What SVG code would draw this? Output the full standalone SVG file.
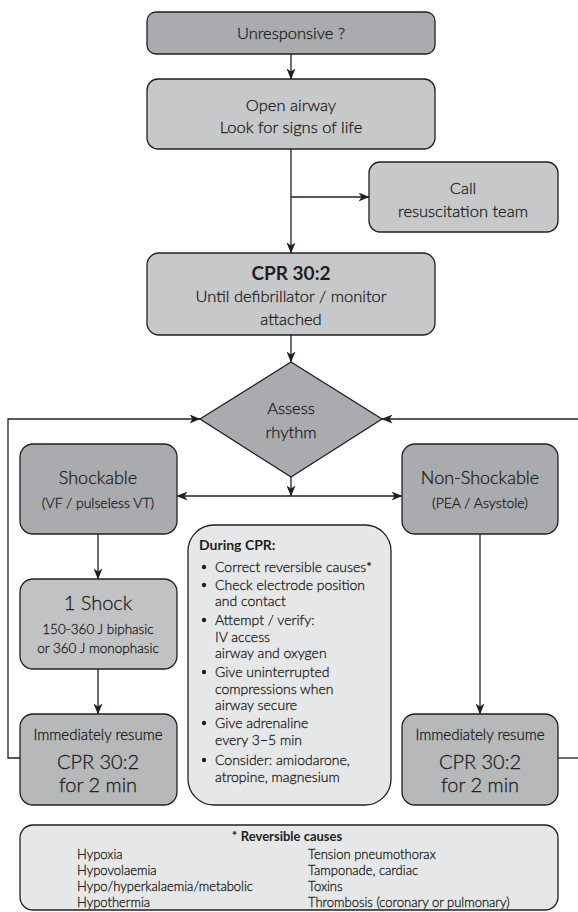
<svg xmlns="http://www.w3.org/2000/svg" width="578" height="912" viewBox="0 0 578 912">
<defs>
<marker id="ah" viewBox="0 0 11 9" markerWidth="11" markerHeight="9" refX="10.5" refY="4.5" orient="auto" markerUnits="userSpaceOnUse">
<path d="M0,0 L11,4.5 L0,9 L3,4.5 z" fill="#231f20"/>
</marker>
<marker id="ahs" viewBox="0 0 11 9" markerWidth="11" markerHeight="9" refX="0.5" refY="4.5" orient="auto" markerUnits="userSpaceOnUse">
<path d="M11,0 L0,4.5 L11,9 L8,4.5 z" fill="#231f20"/>
</marker>
</defs>
<style>
.box{stroke:#231f20;stroke-width:1.3}
.dark{fill:#a9abae}
.mid{fill:#b6b8ba}
.med{fill:#c1c2c4}
.light{fill:#c7c8ca}
.pale{fill:#e6e7e8}
.c{stroke:#231f20;stroke-width:1.3;fill:none}
text{font-family:Lato,"Open Sans","Liberation Sans",sans-serif;fill:#231f20;font-weight:300;stroke:#231f20;stroke-width:0.3}
.t{font-size:16.5px;text-anchor:middle}
.lg{font-size:20px}
.md{font-size:18px}
.b{font-size:14px}
.s{font-size:13px}
.bold{font-weight:bold;stroke:none}
</style>
<g id="connectors">
<line class="c" x1="291" y1="54" x2="291" y2="79" marker-end="url(#ah)"/>
<line class="c" x1="291" y1="149" x2="291" y2="253" marker-end="url(#ah)"/>
<line class="c" x1="291" y1="197" x2="369" y2="197" marker-end="url(#ah)"/>
<line class="c" x1="291" y1="335" x2="291" y2="362" marker-end="url(#ah)"/>
<line class="c" x1="291" y1="477" x2="291" y2="496" marker-end="url(#ah)"/>
<line class="c" x1="177" y1="496" x2="402" y2="496" marker-start="url(#ahs)" marker-end="url(#ah)"/>
<line class="c" x1="98" y1="534" x2="98" y2="579" marker-end="url(#ah)"/>
<line class="c" x1="98" y1="669" x2="98" y2="714" marker-end="url(#ah)"/>
<line class="c" x1="480" y1="534" x2="480" y2="714" marker-end="url(#ah)"/>
<polyline class="c" points="20,758 8,758 8,419 200,419" marker-end="url(#ah)"/>
<line class="c" x1="558" y1="758" x2="578" y2="758"/>
<line class="c" x1="578" y1="419" x2="382" y2="419" marker-end="url(#ah)"/>
</g>
<g id="unresponsive">
<rect class="box dark" x="147" y="12" width="288" height="42" rx="9"/>
<text class="t" x="291" y="39">Unresponsive ?</text>
</g>
<g id="open-airway">
<rect class="box light" x="147" y="79" width="288" height="70" rx="11"/>
<text class="t" x="291" y="111">Open airway</text>
<text class="t" x="291" y="133">Look for signs of life</text>
</g>
<g id="call-team">
<rect class="box light" x="369" y="162" width="189" height="70" rx="11"/>
<text class="t" x="463" y="194">Call</text>
<text class="t" x="463" y="217">resuscitation team</text>
</g>
<g id="cpr">
<rect class="box light" x="147" y="253" width="288" height="82" rx="12"/>
<text class="t bold" x="291" y="280" style="font-size:19px">CPR 30:2</text>
<text class="t" x="291" y="302">Until defibrillator / monitor</text>
<text class="t" x="291" y="325">attached</text>
</g>
<g id="assess">
<polygon class="box dark" points="291,362 382,419 291,477 200,419"/>
<text class="t" x="291" y="414">Assess</text>
<text class="t" x="291" y="438">rhythm</text>
</g>
<g id="shockable">
<rect class="box dark" x="20" y="444" width="157" height="90" rx="13"/>
<text class="t md" x="98" y="484">Shockable</text>
<text class="t" x="98" y="508" style="font-size:14px">(VF / pulseless VT)</text>
</g>
<g id="non-shockable">
<rect class="box dark" x="402" y="444" width="156" height="90" rx="13"/>
<text class="t md" x="480" y="484">Non-Shockable</text>
<text class="t" x="480" y="508" style="font-size:14px">(PEA / Asystole)</text>
</g>
<g id="one-shock">
<rect class="box med" x="20" y="579" width="157" height="90" rx="13"/>
<text class="t lg" x="98" y="610">1 Shock</text>
<text class="t" x="98" y="634" style="font-size:13.5px">150-360 J biphasic</text>
<text class="t" x="98" y="653" style="font-size:13.5px">or 360 J monophasic</text>
</g>
<g id="resume-left">
<rect class="box mid" x="20" y="714" width="157" height="91" rx="13"/>
<text class="t" x="98" y="739.5" style="font-size:15px">Immediately resume</text>
<text class="t lg" x="98" y="769">CPR 30:2</text>
<text class="t lg" x="98" y="792">for 2 min</text>
</g>
<g id="resume-right">
<rect class="box mid" x="402" y="714" width="156" height="91" rx="13"/>
<text class="t" x="480" y="739.5" style="font-size:15px">Immediately resume</text>
<text class="t lg" x="480" y="769">CPR 30:2</text>
<text class="t lg" x="480" y="792">for 2 min</text>
</g>
<g id="during-cpr">
<rect class="box pale" x="188" y="525" width="203" height="280" rx="26"/>
<text class="b bold" x="199" y="550">During CPR:</text>
<g fill="#231f20">
<circle cx="204" cy="567" r="2.2"/>
<circle cx="204" cy="585" r="2.2"/>
<circle cx="204" cy="620" r="2.2"/>
<circle cx="204" cy="672" r="2.2"/>
<circle cx="204" cy="723" r="2.2"/>
<circle cx="204" cy="760" r="2.2"/>
</g>
<text class="b" x="215" y="572">Correct reversible causes*</text>
<text class="b" x="215" y="590">Check electrode position</text>
<text class="b" x="215" y="606">and contact</text>
<text class="b" x="215" y="625">Attempt / verify:</text>
<text class="b" x="215" y="642">IV access</text>
<text class="b" x="215" y="658">airway and oxygen</text>
<text class="b" x="215" y="677">Give uninterrupted</text>
<text class="b" x="215" y="694">compressions when</text>
<text class="b" x="215" y="710">airway secure</text>
<text class="b" x="215" y="728">Give adrenaline</text>
<text class="b" x="215" y="745">every 3–5 min</text>
<text class="b" x="215" y="765">Consider: amiodarone,</text>
<text class="b" x="215" y="782">atropine, magnesium</text>
</g>
<g id="reversible-causes">
<rect class="box pale" x="20" y="825" width="538" height="85" rx="13"/>
<text class="s" x="287" y="841" text-anchor="middle">* <tspan class="bold">Reversible causes</tspan></text>
<text class="s" x="77" y="859">Hypoxia</text>
<text class="s" x="77" y="875">Hypovolaemia</text>
<text class="s" x="77" y="891">Hypo/hyperkalaemia/metabolic</text>
<text class="s" x="77" y="907">Hypothermia</text>
<text class="s" x="308" y="859">Tension pneumothorax</text>
<text class="s" x="308" y="875">Tamponade, cardiac</text>
<text class="s" x="308" y="891">Toxins</text>
<text class="s" x="308" y="907">Thrombosis (coronary or pulmonary)</text>
</g>
</svg>
